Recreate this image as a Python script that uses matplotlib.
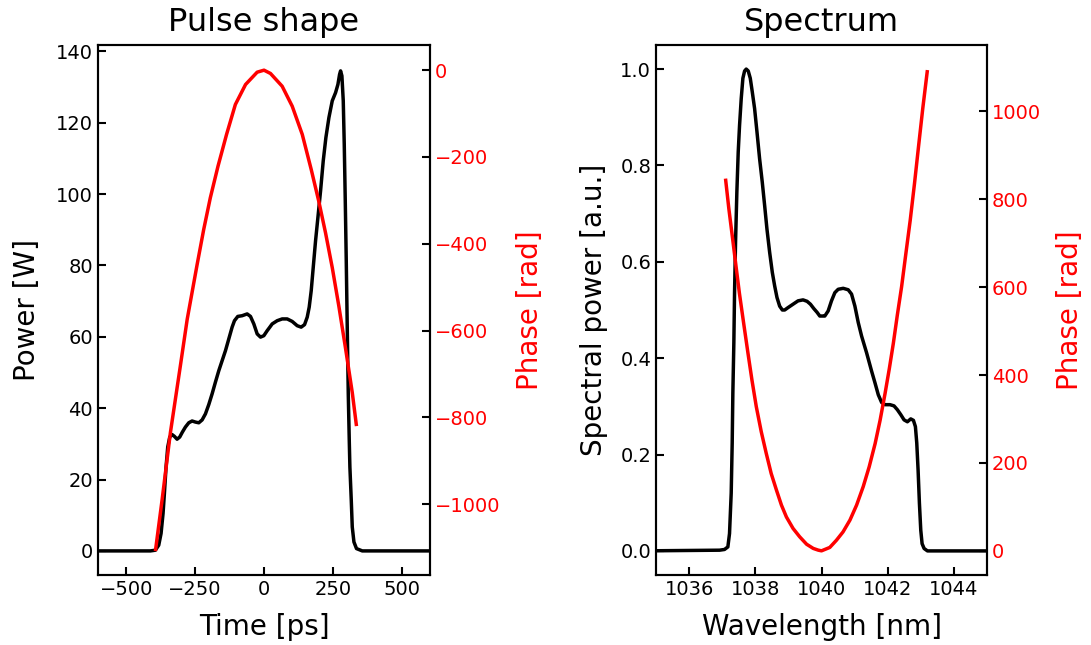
import matplotlib
matplotlib.use("Agg")
import matplotlib.pyplot as plt

# ---- Pulse shape data ----
time_ps = [-650, -412.7, -394.5, -382.4, -373.9, -366.7, -361.8, -355.8, -349.7, -342.4,
           -333.9, -325.5, -315.8, -306.2, -296.4, -285.5, -273.3, -261.2, -249.1, -236.9,
           -224.8, -212.7, -200.6, -188.5, -176.4, -164.2, -152.1, -140, -127.9, -115.8,
           -107.3, -95.2, -79.4, -61.2, -49.1, -37, -24.8, -12.7, -0.6, 11.5, 21.2, 29.7,
           47.9, 66, 84.2, 102.4, 120.6, 135, 147.3, 157, 164.2, 171.5, 178.8, 187.3,
           195.8, 205.5, 215.2, 224.8, 235.8, 247.9, 260, 268.5, 274.5, 278.2, 283,
           287.9, 291.5, 295.2, 298.8, 302.4, 306.1, 309.7, 312, 317, 320.6, 326.7,
           336, 357, 650]
power_w = [0, 0, 0.2, 1.6, 4.9, 10.5, 16.1, 23.5, 29.1, 31.9,
           32.6, 32.1, 31.3, 31.9, 33.3, 34.7, 35.9, 36.4, 36.1, 35.9,
           36.7, 38.4, 41.0, 44.0, 47.3, 50.5, 53.3, 56.1, 59.4, 62.7,
           64.5, 65.7, 65.9, 66.4, 65.7, 63.6, 60.8, 59.9, 60.3, 61.7, 62.7, 63.6,
           64.5, 65.0, 65.0, 64.3, 63.1, 62.7, 63.4, 65.5, 68.3, 72.9, 79.4, 86.9,
           93.4, 100.9, 109.3, 115.8, 121.4, 126.1, 128.4, 130.7, 133.5, 134.5, 133.1,
           126.1, 114, 98.1, 81.3, 62.7, 44, 31, 23.5, 14.2, 6.7, 2.5,
           0.65, 0, 0]

phase_t_ps = [-394.5, -370, -340, -304, -279, -267, -243, -219, -195, -167, -136, -104,
              -67, -24.8, 0, 23.6, 66, 102.5, 139, 171.6, 199, 223.6, 248, 272, 296,
              320.7, 336]
phase_t_rad = [-1108, -989, -835, -682, -574, -532, -448, -367, -294, -221, -148, -79,
               -33, -4.6, 0, -7.6, -37, -83, -148, -229, -302, -375, -455, -544, -640,
               -743, -820]

# ---- Spectrum data ----
wl_nm = [1034.5, 1036.92, 1037.07, 1037.171, 1037.221, 1037.272, 1037.302, 1037.322,
         1037.352, 1037.373, 1037.403, 1037.443, 1037.484, 1037.524, 1037.575, 1037.625,
         1037.676, 1037.726, 1037.787, 1037.848, 1037.908, 1037.979, 1038.050, 1038.130,
         1038.211, 1038.282, 1038.352, 1038.433, 1038.514, 1038.585, 1038.655, 1038.736,
         1038.817, 1038.888, 1038.989, 1039.140, 1039.292, 1039.443, 1039.565, 1039.666,
         1039.767, 1039.868, 1039.948, 1040.049, 1040.100, 1040.201, 1040.302, 1040.403,
         1040.504, 1040.656, 1040.807, 1040.908, 1041.009, 1041.110, 1041.211, 1041.363,
         1041.514, 1041.615, 1041.716, 1041.817, 1041.918, 1042.070, 1042.191, 1042.292,
         1042.393, 1042.494, 1042.595, 1042.696, 1042.777, 1042.837, 1042.878, 1042.918,
         1042.958, 1042.999, 1043.039, 1043.100, 1043.201, 1045.5]
spec_au = [0, 0.0015, 0.003, 0.0083, 0.036, 0.12, 0.224, 0.328,
           0.432, 0.536, 0.640, 0.745, 0.828, 0.883, 0.939, 0.981,
           0.996, 1.0, 0.996, 0.981, 0.953, 0.918, 0.870, 0.814,
           0.765, 0.717, 0.668, 0.620, 0.578, 0.550, 0.526, 0.508,
           0.500, 0.500, 0.505, 0.512, 0.519, 0.521, 0.518, 0.512,
           0.503, 0.495, 0.4875, 0.4875, 0.4875, 0.498, 0.519, 0.536,
           0.543, 0.545, 0.542, 0.533, 0.508, 0.474, 0.446, 0.411,
           0.373, 0.349, 0.324, 0.308, 0.3035, 0.3035, 0.301, 0.293,
           0.283, 0.272, 0.268, 0.274, 0.271, 0.258, 0.224, 0.168,
           0.099, 0.043, 0.015, 0.005, 0, 0]

phase_w_nm = [1037.10, 1037.20, 1037.32, 1037.42, 1037.52, 1037.65, 1037.78, 1037.90,
              1038.03, 1038.18, 1038.33, 1038.48, 1038.64, 1038.79, 1038.94, 1039.14,
              1039.34, 1039.55, 1039.75, 1039.90, 1040.0, 1040.25, 1040.45, 1040.65,
              1040.86, 1041.06, 1041.26, 1041.44, 1041.62, 1041.77, 1041.92, 1042.05,
              1042.17, 1042.29, 1042.42, 1042.55, 1042.68, 1042.81, 1042.93, 1043.06,
              1043.20]
phase_w_rad = [847, 779, 707, 646, 586, 517, 449, 388,
               328, 271, 222, 176, 138, 104, 77, 51,
               32, 15, 5.5, 1.6, 0, 7.7, 24, 43,
               70, 104, 146, 191, 244, 297, 358, 415,
               472, 536, 601, 677, 752, 836, 919, 1007,
               1094]

plt.rcParams.update({
    "font.family": "DejaVu Sans",
    "axes.linewidth": 1.5,
    "xtick.direction": "in",
    "ytick.direction": "in",
    "xtick.major.width": 1.5,
    "ytick.major.width": 1.5,
    "xtick.major.size": 6,
    "ytick.major.size": 6,
    "xtick.labelsize": 14,
    "ytick.labelsize": 14,
    "lines.solid_joinstyle": "round",
    "lines.solid_capstyle": "butt",
})

fig = plt.figure(figsize=(10.91, 6.45), dpi=100)
W, H = 1091, 645
ax1 = fig.add_axes([98 / W, 1 - 575 / H, (430 - 98) / W, (575 - 45) / H])
ax2 = fig.add_axes([656 / W, 1 - 575 / H, (987 - 656) / W, (575 - 45) / H])

LW = 2.5
lab = 20
tit = 23

# Left: pulse shape
ax1.plot(time_ps, power_w, color="black", lw=LW)
ax1.set_xlim(-603, 603)
ax1.set_ylim(-6.75, 141.75)
ax1.set_xticks([-500, -250, 0, 250, 500])
ax1.set_yticks([0, 20, 40, 60, 80, 100, 120, 140])
ax1.set_xlabel("Time [ps]", fontsize=lab, labelpad=10)
ax1.set_ylabel("Power [W]", fontsize=lab, labelpad=11)
ax1.set_title("Pulse shape", fontsize=tit, pad=10)
ax1.tick_params(top=False, right=False)

ax1b = ax1.twinx()
ax1b.plot(phase_t_ps, phase_t_rad, color="red", lw=LW)
ax1b.set_ylim(-1163, 58)
ax1b.set_yticks([0, -200, -400, -600, -800, -1000])
ax1b.set_ylabel("Phase [rad]", fontsize=lab, color="red", labelpad=11)
ax1b.tick_params(axis="y", direction="in", labelcolor="red")

# Right: spectrum
ax2.plot(wl_nm, spec_au, color="black", lw=LW)
ax2.set_xlim(1035, 1045)
ax2.set_ylim(-0.05, 1.05)
ax2.set_xticks([1036, 1038, 1040, 1042, 1044])
ax2.set_yticks([0.0, 0.2, 0.4, 0.6, 0.8, 1.0])
ax2.set_xlabel("Wavelength [nm]", fontsize=lab, labelpad=10)
ax2.set_ylabel("Spectral power [a.u.]", fontsize=lab, labelpad=9)
ax2.set_title("Spectrum", fontsize=tit, pad=10)
ax2.tick_params(top=False, right=False)

ax2b = ax2.twinx()
ax2b.plot(phase_w_nm, phase_w_rad, color="red", lw=LW)
ax2b.set_ylim(-55, 1151)
ax2b.set_yticks([0, 200, 400, 600, 800, 1000])
ax2b.set_ylabel("Phase [rad]", fontsize=lab, color="red", labelpad=11)
ax2b.tick_params(axis="y", direction="in", labelcolor="red")

fig.savefig("out.png", dpi=100)
